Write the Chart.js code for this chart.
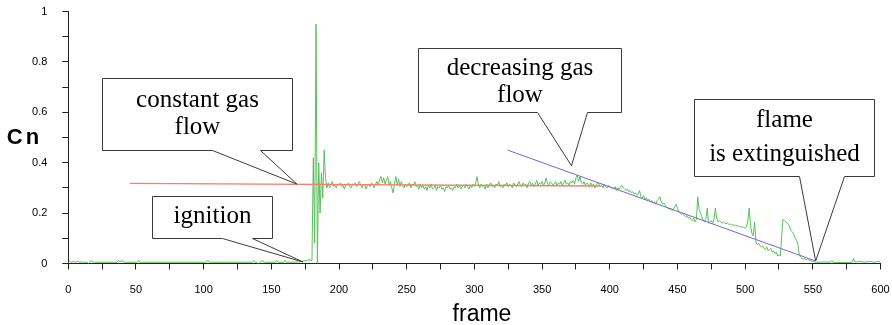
<!DOCTYPE html>
<html>
<head>
<meta charset="utf-8">
<script src="https://cdn.jsdelivr.net/npm/chart.js@4.4.1/dist/chart.umd.min.js"></script>
<style>
  html, body { margin: 0; padding: 0; background: #ffffff; }
  #wrap { position: relative; width: 892px; height: 325px; }
</style>
</head>
<body>
<div id="wrap"><canvas id="c" width="892" height="325"></canvas></div>
<script>
// ---------- DATA ----------
// Green measured signal Cn(frame): sparse part before ignition and the ignition burst
const preFrames = [0, 1, 2, 4, 5, 7, 8, 10, 14, 15, 16, 17, 18, 20, 36, 37, 38, 40, 41, 51, 52, 53,
  102, 103, 104, 136, 137, 138, 141, 143, 145, 153, 154, 155, 159, 160, 161, 170, 175, 177, 178, 179, 180,
  181, 182, 183, 184, 185, 186, 187, 188, 189, 190, 191];
const preCn = [0.005, 0.01, 0.005, 0.008, 0.005, 0.009, 0.005, 0.006, 0.004, 0.0, 0.008, 0.012, 0.006, 0.005, 0.005, 0.012, 0.006, 0.012, 0.005, 0.005, 0.012, 0.005,
  0.005, 0.013, 0.005, 0.005, 0.011, 0.005, 0.0, 0.012, 0.005, 0.005, 0.012, 0.005, 0.005, 0.012, 0.005, 0.006, 0.011, 0.01, 0.018, 0.01, 0.012,
  0.42, 0.08, 0.95, 0.0, 0.40, 0.20, 0.36, 0.26, 0.45, 0.34, 0.30];

// Dense part, one value per frame, starting at frame 192 (through frame 552)
const denseStartFrame = 192;
const denseCn = [
  0.32, 0.30, 0.31, 0.325, 0.305, 0.31, 0.30, 0.315, 0.31, 0.32,
  0.305, 0.31, 0.295, 0.315, 0.31, 0.32, 0.305, 0.30, 0.315, 0.31,
  0.32, 0.305, 0.315, 0.325, 0.31, 0.30, 0.315, 0.31, 0.295, 0.31,
  0.315, 0.305, 0.32, 0.31, 0.30, 0.315, 0.325, 0.31, 0.335, 0.345,
  0.32, 0.34, 0.315, 0.33, 0.345, 0.31, 0.325, 0.30, 0.28, 0.32,
  0.345, 0.31, 0.335, 0.305, 0.325, 0.31, 0.30, 0.315, 0.305, 0.31,
  0.32, 0.30, 0.315, 0.31, 0.325, 0.305, 0.31, 0.295, 0.315, 0.30,
  0.31, 0.295, 0.305, 0.29, 0.31, 0.30, 0.315, 0.295, 0.30, 0.31,
  0.29, 0.305, 0.30, 0.31, 0.295, 0.30, 0.285, 0.305, 0.30, 0.31,
  0.295, 0.30, 0.29, 0.305, 0.30, 0.315, 0.30, 0.31, 0.295, 0.305,
  0.31, 0.30, 0.315, 0.305, 0.295, 0.31, 0.30, 0.315, 0.305, 0.32,
  0.345, 0.31, 0.30, 0.315, 0.305, 0.31, 0.295, 0.315, 0.30, 0.31,
  0.32, 0.305, 0.31, 0.30, 0.315, 0.31, 0.325, 0.305, 0.31, 0.30,
  0.315, 0.31, 0.32, 0.305, 0.315, 0.31, 0.30, 0.32, 0.31, 0.305,
  0.315, 0.325, 0.31, 0.305, 0.32, 0.31, 0.315, 0.30, 0.32, 0.325,
  0.31, 0.32, 0.305, 0.315, 0.33, 0.31, 0.32, 0.315, 0.325, 0.31,
  0.32, 0.34, 0.315, 0.31, 0.325, 0.32, 0.31, 0.315, 0.325, 0.31,
  0.32, 0.315, 0.325, 0.31, 0.32, 0.33, 0.315, 0.32, 0.31, 0.325,
  0.32, 0.33, 0.315, 0.34, 0.35, 0.325, 0.345, 0.32, 0.315, 0.325,
  0.31, 0.32, 0.315, 0.305, 0.32, 0.31, 0.315, 0.30, 0.31, 0.32,
  0.315, 0.305, 0.31, 0.30, 0.315, 0.305, 0.30, 0.31, 0.305, 0.30,
  0.30, 0.295, 0.305, 0.29, 0.30, 0.295, 0.305, 0.31, 0.30, 0.295,
  0.29, 0.295, 0.285, 0.29, 0.28, 0.285, 0.275, 0.28, 0.27, 0.275,
  0.29, 0.265, 0.26, 0.27, 0.255, 0.26, 0.25, 0.255, 0.245, 0.25,
  0.24, 0.245, 0.235, 0.25, 0.255, 0.265, 0.245, 0.235, 0.24, 0.23,
  0.225, 0.22, 0.215, 0.22, 0.21, 0.215, 0.225, 0.235, 0.22, 0.205,
  0.20, 0.195, 0.20, 0.19, 0.185, 0.19, 0.18, 0.185, 0.175, 0.17,
  0.18, 0.165, 0.175, 0.265, 0.215, 0.20, 0.185, 0.17, 0.165, 0.175,
  0.22, 0.16, 0.165, 0.17, 0.16, 0.175, 0.22, 0.18, 0.165, 0.17,
  0.165, 0.16, 0.165, 0.16, 0.158, 0.16, 0.155, 0.157, 0.152, 0.155,
  0.15, 0.152, 0.148, 0.15, 0.145, 0.147, 0.143, 0.145, 0.14, 0.145,
  0.17, 0.22, 0.15, 0.12, 0.11, 0.165, 0.085, 0.075, 0.08, 0.07,
  0.065, 0.07, 0.06, 0.055, 0.065, 0.05, 0.055, 0.06, 0.045, 0.05,
  0.04, 0.045, 0.03, 0.035, 0.03, 0.11, 0.175, 0.17, 0.165, 0.16,
  0.155, 0.145, 0.13, 0.125, 0.115, 0.10, 0.09, 0.075, 0.035, 0.025,
  0.02, 0.018, 0.02, 0.015, 0.018, 0.014, 0.012, 0.01, 0.008, 0.006,
  0.004
];

// Sparse part after extinction
const postFrames = [553, 558, 563, 564, 565, 570, 579, 580, 581, 585, 588, 592, 595, 598, 600];
const postCn = [0.005, 0.006, 0.005, 0.012, 0.005, 0.004, 0.005, 0.02, 0.006, 0.008, 0.005, 0.009, 0.005, 0.008, 0.006];

// Fitted lines
const constFrames = [45.5, 393];
const constCn = [0.318, 0.3075];
const decrFrames = [324.5, 552];
const decrCn = [0.45, 0.01];

// Axis ticks
const xMajorTicks = [0, 50, 100, 150, 200, 250, 300, 350, 400, 450, 500, 550, 600];
const yMajorTicks = ['0', '0.2', '0.4', '0.6', '0.8', '1'];

// Callout texts
const calloutTexts = [
  ['constant gas', 'flow'],
  ['ignition'],
  ['decreasing gas', 'flow'],
  ['flame', 'is extinguished']
];

// ---------- BUILD ----------
const greenData = [];
preFrames.forEach((f, i) => greenData.push({ x: f, y: preCn[i] }));
denseCn.forEach((v, i) => greenData.push({ x: denseStartFrame + i, y: v }));
postFrames.forEach((f, i) => greenData.push({ x: f, y: postCn[i] }));
const redData = constFrames.map((f, i) => ({ x: f, y: constCn[i] }));
const blueData = decrFrames.map((f, i) => ({ x: f, y: decrCn[i] }));

// Callout geometry in data units: box [x0, x1, yTop, yBottom], pointer base x's, tip, baseline offsets (px from box top)
const calloutGeom = [
  { box: [24.9, 164.9, 0.736, 0.450], base: [106.1, 141.6], tip: [168.9, 0.315], baselines: [28, 55.5] },
  { box: [61.6, 150.3, 0.268, 0.100], base: [113.8, 135.9], tip: [173.4, 0.006], baselines: [26.5] },
  { box: [258.1, 408.3, 0.854, 0.600], base: [346.0, 383.0], tip: [371.7, 0.388], baselines: [26, 53.5] },
  { box: [462.4, 595.1, 0.654, 0.347], base: [540.0, 573.2], tip: [552.1, 0.010], baselines: [27.5, 61.5] }
];

const calloutPlugin = {
  id: 'callouts',
  afterDatasetsDraw(chart) {
    const ctx = chart.ctx, xs = chart.scales.x, ys = chart.scales.y;
    const px = v => Math.round(xs.getPixelForValue(v)) + 0.5;
    const py = v => Math.round(ys.getPixelForValue(v)) + 0.5;
    ctx.save();
    calloutGeom.forEach((g, k) => {
      const L = px(g.box[0]), R = px(g.box[1]), T = py(g.box[2]), B = py(g.box[3]);
      const b1 = px(g.base[0]), b2 = px(g.base[1]);
      const tx = xs.getPixelForValue(g.tip[0]), ty = ys.getPixelForValue(g.tip[1]);
      ctx.beginPath();
      ctx.moveTo(L, T); ctx.lineTo(R, T); ctx.lineTo(R, B); ctx.lineTo(b2, B);
      ctx.lineTo(tx, ty); ctx.lineTo(b1, B); ctx.lineTo(L, B); ctx.closePath();
      ctx.fillStyle = '#ffffff';
      ctx.fill();
      ctx.strokeStyle = '#3a3a3a';
      ctx.lineWidth = 1;
      ctx.stroke();
      ctx.fillStyle = '#000000';
      ctx.font = '25px "Liberation Serif", "Times New Roman", serif';
      ctx.textAlign = 'center';
      ctx.textBaseline = 'alphabetic';
      const cx = (L + R) / 2;
      calloutTexts[k].forEach((line, i) => ctx.fillText(line, cx, T + g.baselines[i]));
    });
    ctx.restore();
  }
};

const titlesPlugin = {
  id: 'titles',
  afterDraw(chart) {
    const ctx = chart.ctx;
    ctx.save();
    ctx.fillStyle = '#000000';
    ctx.textBaseline = 'alphabetic';
    ctx.textAlign = 'center';
    ctx.font = 'bold 22px "Liberation Sans", Arial, sans-serif';
    try { ctx.letterSpacing = '3px'; } catch (e) {}
    ctx.fillText('Cn', 24.5, 144);
    try { ctx.letterSpacing = '0px'; } catch (e) {}
    ctx.font = '23px "Liberation Sans", Arial, sans-serif';
    ctx.fillText('frame', 482, 321);
    ctx.restore();
  }
};

const axisColor = '#222222';
const tickFont = { family: '"Liberation Sans", Arial, sans-serif', size: 11 };

new Chart(document.getElementById('c'), {
  type: 'line',
  data: {
    datasets: [
      { label: 'Cn', data: greenData, borderColor: '#5cbf5c', borderWidth: 1, pointRadius: 0, tension: 0, order: 3 },
      { label: 'constant gas flow', data: redData, borderColor: '#f3806a', borderWidth: 1.3, pointRadius: 0, order: 2 },
      { label: 'decreasing gas flow', data: blueData, borderColor: '#6a6ad0', borderWidth: 1, pointRadius: 0, order: 1 }
    ]
  },
  options: {
    responsive: false,
    animation: false,
    devicePixelRatio: 1,
    layout: { padding: { left: 0, right: 11.5, top: 11.5, bottom: 0 } },
    plugins: { legend: { display: false }, tooltip: { enabled: false } },
    scales: {
      x: {
        type: 'linear', min: 0, max: 600,
        border: { display: true, color: axisColor, width: 1 },
        grid: { drawOnChartArea: false, drawTicks: true, tickLength: 6, color: axisColor },
        ticks: {
          stepSize: 25, autoSkip: false, maxRotation: 0, padding: 14, color: '#000', font: tickFont,
          callback: v => (xMajorTicks.includes(v) ? String(v) : '')
        },
        afterFit: s => { s.height = 61.5; s.paddingLeft = 0; s.paddingRight = 0; s.paddingTop = 0; s.paddingBottom = 0; }
      },
      y: {
        type: 'linear', min: 0, max: 1,
        border: { display: true, color: axisColor, width: 1 },
        grid: { drawOnChartArea: false, drawTicks: true, tickLength: 6, color: axisColor },
        ticks: {
          stepSize: 0.1, autoSkip: false, padding: 15, color: '#000', font: tickFont,
          callback: v => {
            const k = Math.round(v * 10);
            return k % 2 === 0 ? yMajorTicks[k / 2] : '';
          }
        },
        afterFit: s => { s.width = 68.3; s.paddingLeft = 0; s.paddingRight = 0; s.paddingTop = 0; s.paddingBottom = 0; }
      }
    }
  },
  plugins: [calloutPlugin, titlesPlugin]
});
</script>
</body>
</html>
